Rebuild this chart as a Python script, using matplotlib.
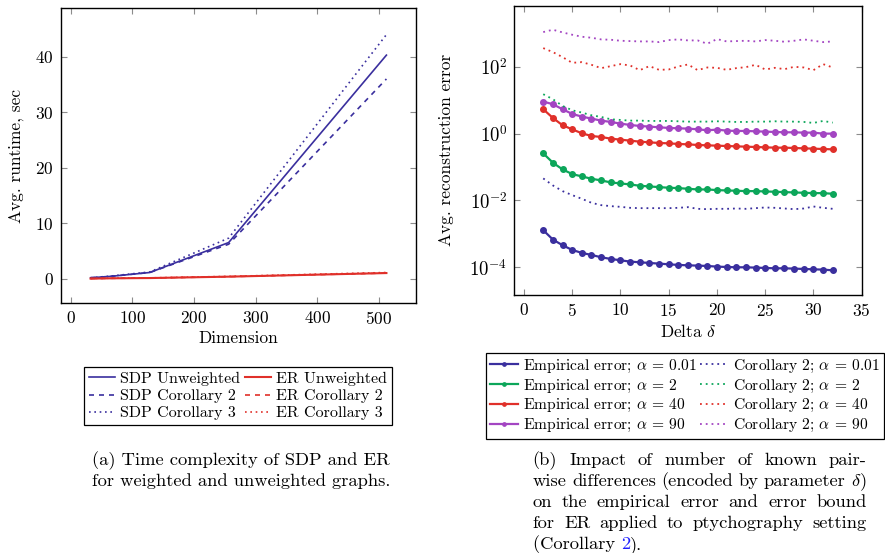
import numpy as np
import matplotlib
matplotlib.use("Agg")
import matplotlib.pyplot as plt

plt.rcParams['font.family'] = ['cmr10', 'DejaVu Serif']
plt.rcParams['mathtext.fontset'] = 'cm'
plt.rcParams['axes.formatter.use_mathtext'] = True
plt.rcParams['axes.unicode_minus'] = False

# ---------------- data: left panel ----------------
dimension = [32, 64, 128, 256, 512]
sdp_unweighted = [0.15, 0.4, 1.1, 6.5, 40.3]
sdp_cor2 = [0.15, 0.4, 1.1, 6.2, 36.0]
sdp_cor3 = [0.15, 0.45, 1.2, 7.3, 44.0]
er_unweighted = [0.0, 0.05, 0.1, 0.35, 1.0]
er_cor2 = [0.0, 0.05, 0.1, 0.35, 1.0]
er_cor3 = [0.02, 0.07, 0.13, 0.4, 1.1]

# ---------------- data: right panel (log10 values) ----------------
delta = list(range(2, 33))
emp_001_log = [-2.89, -3.17, -3.34, -3.48, -3.57, -3.63, -3.70, -3.75, -3.79, -3.83, -3.85,
               -3.87, -3.89, -3.91, -3.93, -3.94, -3.95, -3.96, -3.98, -3.99, -4.00, -4.00,
               -4.01, -4.02, -4.03, -4.03, -4.04, -4.05, -4.06, -4.07, -4.09]
emp_2_log = [-0.59, -0.87, -1.07, -1.21, -1.28, -1.35, -1.40, -1.46, -1.49, -1.52, -1.56,
             -1.58, -1.60, -1.62, -1.63, -1.65, -1.67, -1.67, -1.69, -1.70, -1.71, -1.72,
             -1.72, -1.73, -1.74, -1.75, -1.76, -1.77, -1.78, -1.78, -1.80]
emp_40_log = [0.73, 0.47, 0.25, 0.13, 0.01, -0.07, -0.10, -0.15, -0.18, -0.21, -0.24,
              -0.26, -0.28, -0.29, -0.31, -0.32, -0.34, -0.35, -0.36, -0.37, -0.38, -0.39,
              -0.40, -0.41, -0.42, -0.42, -0.43, -0.44, -0.45, -0.46, -0.47]
emp_90_log = [0.96, 0.88, 0.73, 0.59, 0.51, 0.45, 0.39, 0.35, 0.30, 0.26, 0.23,
              0.21, 0.19, 0.17, 0.16, 0.15, 0.13, 0.10, 0.12, 0.09, 0.08, 0.08,
              0.07, 0.06, 0.05, 0.04, 0.04, 0.03, 0.03, 0.00, 0.00]
cor_001_log = [-1.34, -1.55, -1.72, -1.84, -1.95, -2.07, -2.14, -2.17, -2.19, -2.22, -2.23,
               -2.23, -2.23, -2.23, -2.22, -2.20, -2.25, -2.26, -2.25, -2.25, -2.24, -2.25,
               -2.23, -2.21, -2.22, -2.24, -2.26, -2.24, -2.18, -2.22, -2.25]
cor_2_log = [1.18, 1.03, 0.83, 0.70, 0.63, 0.55, 0.50, 0.43, 0.41, 0.39, 0.39,
             0.38, 0.38, 0.38, 0.37, 0.36, 0.36, 0.36, 0.37, 0.36, 0.35, 0.35,
             0.36, 0.36, 0.37, 0.36, 0.36, 0.35, 0.32, 0.38, 0.33]
cor_40_log = [2.56, 2.44, 2.29, 2.12, 2.14, 2.06, 1.96, 2.02, 2.08, 2.04, 1.90,
              2.02, 1.91, 1.92, 2.01, 2.07, 1.90, 1.98, 1.97, 1.91, 1.96, 1.99,
              2.06, 1.92, 1.97, 1.93, 2.00, 1.98, 1.90, 2.08, 1.98]
cor_90_log = [3.04, 3.11, 3.03, 2.96, 2.90, 2.87, 2.82, 2.81, 2.78, 2.77, 2.76,
              2.76, 2.74, 2.80, 2.82, 2.79, 2.79, 2.69, 2.83, 2.76, 2.77, 2.78,
              2.76, 2.80, 2.78, 2.75, 2.78, 2.82, 2.78, 2.74, 2.76]

left_labels = ["SDP Unweighted", "SDP Corollary 2", "SDP Corollary 3",
               "ER Unweighted", "ER Corollary 2", "ER Corollary 3"]
right_emp_labels = [r"Empirical error; $\alpha$ = 0.01", r"Empirical error; $\alpha$ = 2",
                    r"Empirical error; $\alpha$ = 40", r"Empirical error; $\alpha$ = 90"]
right_cor_labels = [r"Corollary 2; $\alpha$ = 0.01", r"Corollary 2; $\alpha$ = 2",
                    r"Corollary 2; $\alpha$ = 40", r"Corollary 2; $\alpha$ = 90"]

NAVY = '#3a2f9e'
RED = '#e0302a'
GREEN = '#0ca65a'
PURPLE = '#a345c2'

W, H = 885, 553
fig = plt.figure(figsize=(W / 100, H / 100), dpi=100)

def frac(x0, y0, x1, y1):
    return [x0 / W, 1 - y1 / H, (x1 - x0) / W, (y1 - y0) / H]

FS = 12.5
dotted = (0, (1, 2.2))
dashed = (0, (3, 3))

def style_axes(ax):
    ax.tick_params(direction='in', length=4, width=0.8, color='0.55',
                   top=True, right=True, labelsize=FS, pad=5)
    for s in ax.spines.values():
        s.set_linewidth(1.0)

# ---------------- left panel ----------------
axL = fig.add_axes(frac(61, 8, 416, 303))
axL.plot(dimension, sdp_unweighted, color=NAVY, lw=1.2)
axL.plot(dimension, sdp_cor2, color=NAVY, lw=1.2, ls=dashed)
axL.plot(dimension, sdp_cor3, color=NAVY, lw=1.2, ls=dotted)
axL.plot(dimension, er_unweighted, color=RED, lw=1.5)
axL.plot(dimension, er_cor2, color=RED, lw=1.2, ls=dashed)
axL.plot(dimension, er_cor3, color=RED, lw=1.2, ls=dotted)
axL.set_xlim(-16, 560)
axL.set_ylim(-4.4, 48.8)
axL.set_xticks([0, 100, 200, 300, 400, 500])
axL.set_yticks([0, 10, 20, 30, 40])
axL.set_xlabel("Dimension", fontsize=FS, labelpad=3)
axL.set_ylabel("Avg. runtime, sec", fontsize=FS, labelpad=8)
style_axes(axL)

# ---------------- right panel ----------------
axR = fig.add_axes(frac(514.3, 6, 861.7, 294.7))
emp_sets = [emp_001_log, emp_2_log, emp_40_log, emp_90_log]
cor_sets = [cor_001_log, cor_2_log, cor_40_log, cor_90_log]
cols = [NAVY, GREEN, RED, PURPLE]
emp_handles, cor_handles = [], []
for vals, c, lab in zip(emp_sets, cols, right_emp_labels):
    h, = axR.plot(delta, 10 ** np.array(vals), color=c, lw=1.6, marker='o',
                  markersize=4, label=lab)
    emp_handles.append(h)
for vals, c, lab in zip(cor_sets, cols, right_cor_labels):
    h, = axR.plot(delta, 10 ** np.array(vals), color=c, lw=1.3, ls=dotted, label=lab)
    cor_handles.append(h)
axR.set_yscale('log')
axR.set_xlim(-1, 35)
axR.set_ylim(10 ** -4.82, 10 ** 3.82)
axR.set_xticks([0, 5, 10, 15, 20, 25, 30, 35])
axR.set_yticks([1e-4, 1e-2, 1e0, 1e2])
axR.set_yticklabels([r"$10^{-4}$", r"$10^{-2}$", r"$10^{0}$", r"$10^{2}$"])
axR.minorticks_off()
axR.set_xlabel(r"Delta $\delta$", fontsize=FS, labelpad=3)
axR.set_ylabel("Avg. reconstruction error", fontsize=FS, labelpad=11)
style_axes(axR)
axR.tick_params(axis='y', labelsize=13.5)

# ---------------- legends ----------------
LFS = 11.5
left_handles = axL.get_lines()
legL = fig.legend(left_handles, left_labels, ncol=2, loc='center',
                  bbox_to_anchor=(238 / W, 1 - 396 / H), fontsize=LFS,
                  frameon=True, fancybox=False, edgecolor='black', framealpha=1,
                  handlelength=1.6, handletextpad=0.35, columnspacing=0.3,
                  labelspacing=0.18, borderpad=0.3, borderaxespad=0)
legL.get_frame().set_linewidth(0.9)

legR = fig.legend(emp_handles + cor_handles, right_emp_labels + right_cor_labels,
                  ncol=2, loc='center', bbox_to_anchor=(685 / W, 1 - 396 / H),
                  fontsize=11.2, frameon=True, fancybox=False, edgecolor='black',
                  framealpha=1, handlelength=1.8, handletextpad=0.3,
                  columnspacing=0.2, labelspacing=0.18, borderpad=0.3,
                  borderaxespad=0, markerscale=0.6)
legR.get_frame().set_linewidth(0.9)

# ---------------- captions ----------------
CFS = 13.3
capL = ["(a) Time complexity of SDP and ER", "for weighted and unweighted graphs."]
for i, line in enumerate(capL):
    fig.text(241 / W, 1 - (465 + 21 * i) / H, line, fontsize=CFS,
             ha='center', va='baseline')

capR = ["(b) Impact of number of known pair-",
        r"wise differences (encoded by parameter $\delta$)",
        "on the empirical error and error bound",
        "for ER applied to ptychography setting"]
renderer = fig.canvas.get_renderer()
x_left, x_right = 532.7, 866.7
for i, line in enumerate(capR):
    words = line.split(" ")
    y = 1 - (465 + 21 * i) / H
    texts = [fig.text(0, y, w, fontsize=CFS, ha='left', va='baseline') for w in words]
    widths = [t.get_window_extent(renderer).width for t in texts]
    gap = (x_right - x_left - sum(widths)) / (len(texts) - 1)
    x = x_left
    for t, wdt in zip(texts, widths):
        t.set_x(x / W)
        x += wdt + gap

# last line with blue reference number
y = 1 - (465 + 21 * 4) / H
t1 = fig.text(x_left / W, y, "(Corollary ", fontsize=CFS, ha='left', va='baseline')
w1 = t1.get_window_extent(renderer).width
t2 = fig.text((x_left + w1) / W, y, "2", fontsize=CFS, ha='left', va='baseline', color='#1f1fff')
w2 = t2.get_window_extent(renderer).width
fig.text((x_left + w1 + w2) / W, y, ").", fontsize=CFS, ha='left', va='baseline')

fig.savefig("out.png", dpi=100)
